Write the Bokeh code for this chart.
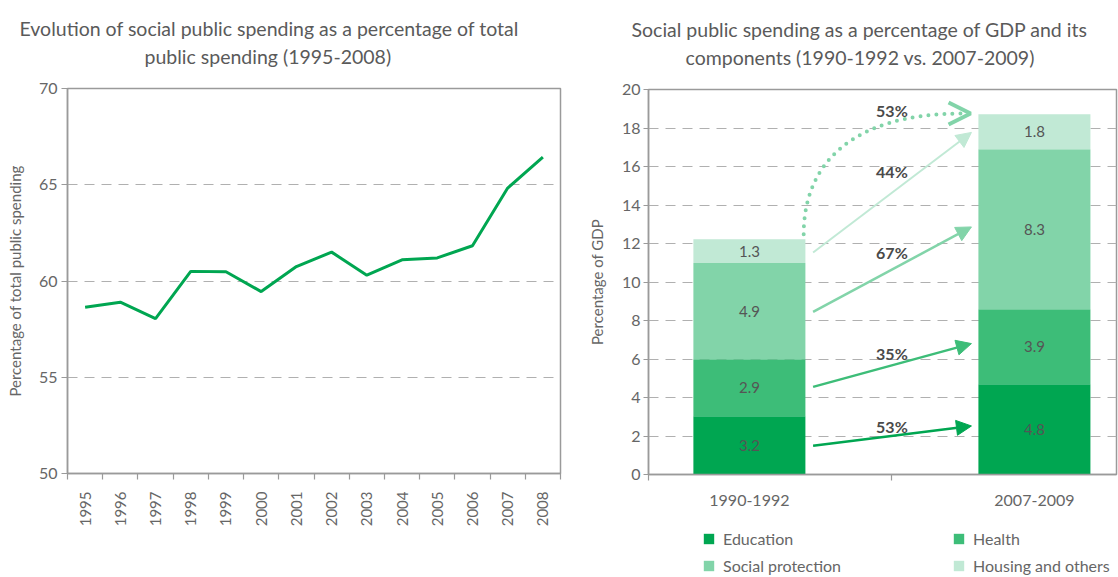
import math
import numpy as np
from bokeh.plotting import figure
from bokeh.layouts import row, column
from bokeh.models import (Range1d, FixedTicker, Title, Arrow, NormalHead, OpenHead,
                          Legend, LegendItem, ColumnDataSource)
from bokeh.core.properties import value
from bokeh.embed import file_html
from bokeh.resources import INLINE

FONT = "Lato"
TXT = "#5a5a5a"
AX = "#9a9a9a"

# ---------------- data: left chart ----------------
years = list(range(1995, 2009))
social_share = [58.64, 58.9, 58.05, 60.5, 60.48, 59.45, 60.75, 61.5, 60.3,
                61.1, 61.2, 61.83, 64.83, 66.43]
left_yticks = [50, 55, 60, 65, 70]

# ---------------- data: right chart ----------------
periods = ["1990-1992", "2007-2009"]
education = [3.03, 4.69]
health = [2.96, 3.90]
social_protection = [5.00, 8.31]
housing = [1.23, 1.81]
education_lbl = ["3.2", "4.8"]
health_lbl = ["2.9", "3.9"]
social_lbl = ["4.9", "8.3"]
housing_lbl = ["1.3", "1.8"]
components = ["Education", "Health", "Social protection", "Housing and others"]
right_yticks = list(range(0, 21, 2))

# growth arrows (from period 1 to period 2), in GDP % units
growth_lbl = ["53%", "35%", "67%", "44%"]
arrow_y_from = [1.49, 4.55, 8.45, 11.53]
arrow_y_to = [2.52, 6.80, 12.86, 17.77]
growth_lbl_y = [2.48, 6.30, 11.53, 15.73]
total_growth_lbl = "53%"
total_growth_y = 18.9

colors = ["#00a651", "#3dbd78", "#82d4a9", "#c1e9d5"]


def style_axes(p):
    for ax in (p.xaxis, p.yaxis):
        ax.axis_line_color = AX
        ax.axis_line_width = 1.5
        ax.major_tick_line_color = AX
        ax.major_tick_line_width = 1.2
        ax.minor_tick_line_color = AX
        ax.minor_tick_line_width = 1.2
        ax.major_label_text_color = "#666666"
        ax.major_label_text_font = FONT
        ax.axis_label_text_font = FONT
        ax.axis_label_text_font_style = "normal"
        ax.axis_label_text_color = "#666666"
        ax.axis_label_text_font_size = "15px"
    p.xgrid.visible = False
    p.ygrid.grid_line_color = "#b0b0b0"
    p.ygrid.grid_line_dash = "10 7"
    p.ygrid.grid_line_width = 1.2
    p.outline_line_color = AX
    p.outline_line_width = 1.5


def add_title(p, lines, offsets):
    # a thin spacer keeps the two title lines clear of the frame
    p.add_layout(Title(text=" ", text_font_size="1px", standoff=18), "above")
    for t, off, so in reversed(list(zip(lines, offsets, [5, 0]))):
        p.add_layout(Title(text=t, align="left", offset=off, standoff=so,
                           text_font=FONT, text_font_size="19.5px",
                           text_font_style="normal", text_color=TXT), "above")


# ---------------- left figure ----------------
p1 = figure(width=580, height=577, x_range=Range1d(years[0] - 0.5, years[-1] + 0.5),
            y_range=Range1d(left_yticks[0], left_yticks[-1]),
            output_backend="svg", toolbar_location=None,
            min_border_left=67, min_border_right=20, min_border_top=88, min_border_bottom=104)
p1.title = None
p1.line(years, social_share, line_color=colors[0], line_width=3)
style_axes(p1)
p1.xaxis.ticker = FixedTicker(ticks=years,
                              minor_ticks=[y - 0.5 for y in years] + [years[-1] + 0.5])
p1.xaxis.major_tick_out = 0
p1.xaxis.major_tick_in = 0
p1.xaxis.minor_tick_out = 6
p1.xaxis.minor_tick_in = 0
p1.xaxis.major_label_orientation = math.pi / 2
p1.xaxis.major_label_text_font_size = "15px"
p1.xaxis.major_label_standoff = 12
p1.yaxis.ticker = FixedTicker(ticks=left_yticks)
p1.yaxis.major_label_text_font_size = "16px"
p1.yaxis.major_tick_out = 6
p1.yaxis.major_tick_in = 0
p1.yaxis.major_label_standoff = 4
p1.yaxis.axis_label = "Percentage of total public spending"
p1.yaxis.axis_label_standoff = 12
add_title(p1, ["Evolution of social public spending as a percentage of total",
               "public spending (1995-2008)"], [-48, 77])

# ---------------- right figure ----------------
xs = list(range(len(periods)))
p2 = figure(width=538, height=520, x_range=Range1d(-0.354, 1.288),
            y_range=Range1d(right_yticks[0], right_yticks[-1]),
            output_backend="svg", toolbar_location=None,
            min_border_left=68, min_border_right=2, min_border_top=89, min_border_bottom=46)
p2.title = None
src = ColumnDataSource(dict(x=xs, education=education, health=health,
                            social=social_protection, housing=housing))
keys = ["education", "health", "social", "housing"]
rs = p2.vbar_stack(keys, x="x", width=0.393, fill_color=colors, line_color=None, source=src)

stack = np.array([education, health, social_protection, housing])
tops = stack.cumsum(axis=0)
mids = tops - stack / 2
labels = [education_lbl, health_lbl, social_lbl, housing_lbl]
p2.text(x=xs * 4, y=list(mids.flatten()), text=sum(labels, []),
        text_align="center", text_baseline="middle", text_font=value(FONT),
        text_font_size="15px", text_color="#555555")

ARROW_X0, ARROW_X1 = 0.2235, 0.779
for i in range(4):
    c = colors[i]
    p2.add_layout(Arrow(x_start=ARROW_X0, y_start=arrow_y_from[i], x_end=ARROW_X1,
                        y_end=arrow_y_to[i], line_color=c, line_width=2.5 if i < 3 else 2,
                        end=NormalHead(size=15, fill_color=c, line_color=c)))

p2.text(x=[0.5] * 4, y=growth_lbl_y, text=growth_lbl, text_align="center",
        text_baseline="middle", text_font=value(FONT), text_font_size="16px",
        text_font_style="bold", text_color="#4a4a4a")
p2.text(x=[0.5], y=[total_growth_y], text=[total_growth_lbl], text_align="center",
        text_baseline="middle", text_font=value(FONT), text_font_size="16px",
        text_font_style="bold", text_color="#4a4a4a")

# dotted curved arrow for the total
p2.bezier(x0=[0.1905], y0=[12.48], x1=[0.745], y1=[18.75],
          cx0=[0.1905], cy0=[16.07], cx1=[0.354], cy1=[18.75],
          line_color=colors[2], line_width=4, line_dash="0 8", line_cap="round")
p2.add_layout(Arrow(x_start=0.70, y_start=18.75, x_end=0.776, y_end=18.75, line_alpha=0,
                    end=OpenHead(size=22, line_width=4, line_color=colors[2])))

style_axes(p2)
p2.xaxis.ticker = FixedTicker(ticks=xs, minor_ticks=[-0.354, 0.5])
p2.xaxis.major_label_overrides = {i: periods[i] for i in xs}
p2.xaxis.major_tick_out = 0
p2.xaxis.major_tick_in = 0
p2.xaxis.minor_tick_out = 6
p2.xaxis.minor_tick_in = 0
p2.xaxis.major_label_text_font_size = "16px"
p2.xaxis.major_label_standoff = 14
p2.yaxis.ticker = FixedTicker(ticks=right_yticks)
p2.yaxis.major_label_text_font_size = "16px"
p2.yaxis.major_tick_out = 5
p2.yaxis.major_tick_in = 0
p2.yaxis.major_label_standoff = 3
p2.yaxis.axis_label = "Percentage of GDP"
p2.yaxis.axis_label_standoff = 13

add_title(p2, ["Social public spending as a percentage of GDP and its",
               "components (1990-1992 vs. 2007-2009)"], [-17, 37])

# ---------------- legend strip under the right chart ----------------
p_leg = figure(width=538, height=57, x_axis_type=None, y_axis_type=None,
               x_range=Range1d(0, 1), y_range=Range1d(0, 1),
               output_backend="svg", toolbar_location=None, min_border=0)
p_leg.outline_line_color = None
# zero-size swatch carriers: they only lend their colours to the legend
leg_rs = [p_leg.vbar(x=[0], top=[0], width=0, fill_color=c, line_color=None) for c in colors]
legend = Legend(items=[LegendItem(label=components[i], renderers=[leg_rs[i]]) for i in range(4)],
                orientation="horizontal", ncols=2, location=(54, 2),
                glyph_width=13, glyph_height=13, label_standoff=8, label_width=222,
                label_height=20, spacing=7, padding=0, margin=0,
                label_text_font=FONT, label_text_font_size="16px", label_text_color="#666666",
                border_line_color=None, background_fill_alpha=0)
p_leg.add_layout(legend, "center")

layout = row(p1, column(p2, p_leg))
open("out.html", "w").write(file_html(layout, INLINE))
